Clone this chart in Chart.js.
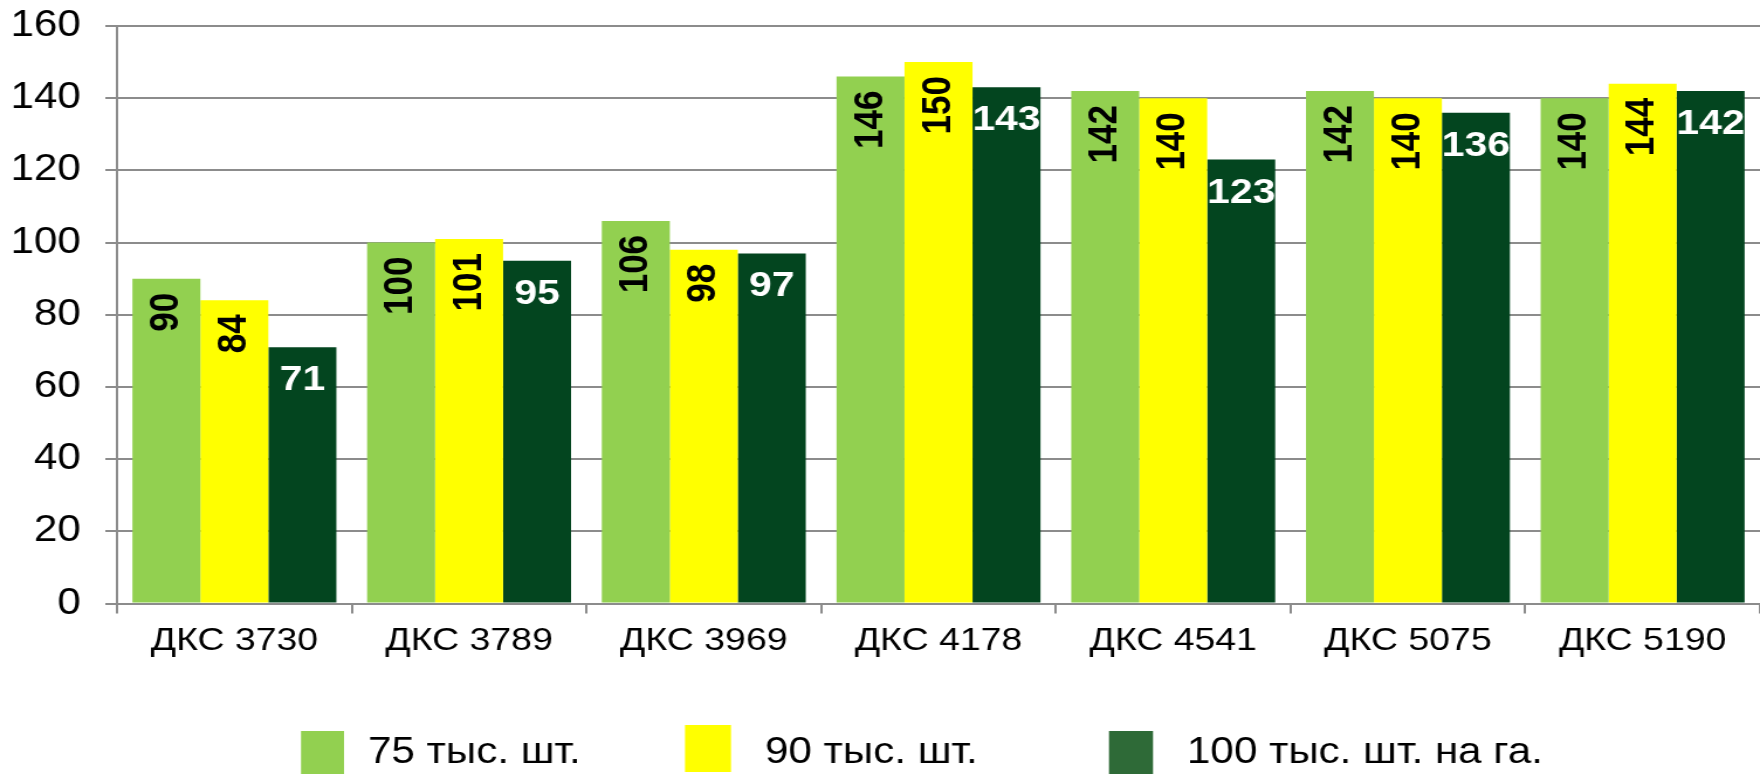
<!DOCTYPE html>
<html>
<head>
<meta charset="utf-8">
<script src="https://cdn.jsdelivr.net/npm/chart.js@4/dist/chart.umd.min.js"></script>
<style>
html, body { margin: 0; padding: 0; background: #ffffff; overflow: hidden; width: 1760px; height: 775px; }
#wrap { position: absolute; left: 0; top: 0; width: 1504px; height: 775px; transform: scaleX(1.1702); transform-origin: 0 0; }
</style>
</head>
<body>
<div id="wrap"><canvas id="c"></canvas></div>
<script>
// ---- data ----
const categories = ['ДКС 3730', 'ДКС 3789', 'ДКС 3969', 'ДКС 4178', 'ДКС 4541', 'ДКС 5075', 'ДКС 5190'];
const series75 = [90, 100, 106, 146, 142, 142, 140];
const series90 = [84, 101, 98, 150, 140, 140, 144];
const series100 = [71, 95, 97, 143, 123, 136, 142];
const seriesNames = ['75 тыс. шт.', '90 тыс. шт.', '100 тыс. шт. на га.'];
const yTickValues = [0, 20, 40, 60, 80, 100, 120, 140, 160];

// ---- style ----
const STRETCH = 1760 / 1504;
const FONT = '"Liberation Sans", Arial, Helvetica, sans-serif';
const barColors = ['#92D050', '#FFFF00', '#03451F'];
const legendColors = ['#92D050', '#FFFF00', '#2E6A37'];
const gridColor = '#8C8C8C';
// legend layout in screen pixels: [boxLeft, boxTop, boxW, boxH, textLeft]
const legendLayout = [
  [301, 731, 43, 43, 368],
  [685, 725, 46, 47, 765],
  [1109, 731, 44, 43, 1187]
];

Chart.defaults.font.family = FONT;

const valueLabels = {
  id: 'valueLabels',
  afterDatasetsDraw(chart) {
    const ctx = chart.ctx;
    chart.data.datasets.forEach((ds, di) => {
      const meta = chart.getDatasetMeta(di);
      meta.data.forEach((bar, i) => {
        const v = ds.data[i];
        ctx.save();
        ctx.font = 'bold 35px ' + FONT;
        if (di < 2) {
          ctx.fillStyle = '#000000';
          ctx.translate(bar.x, bar.y + 14);
          ctx.rotate(-Math.PI / 2);
          ctx.textAlign = 'right';
          ctx.textBaseline = 'middle';
          ctx.fillText(String(v), 0, 0);
        } else {
          ctx.fillStyle = '#FFFFFF';
          ctx.textAlign = 'center';
          ctx.textBaseline = 'alphabetic';
          ctx.fillText(String(v), bar.x, bar.y + 43);
        }
        ctx.restore();
      });
    });
  }
};

const customLegend = {
  id: 'customLegend',
  afterDraw(chart) {
    const ctx = chart.ctx;
    ctx.save();
    ctx.font = '36px ' + FONT;
    ctx.textBaseline = 'alphabetic';
    ctx.textAlign = 'left';
    chart.data.datasets.forEach((ds, i) => {
      const [bx, by, bw, bh, tx] = legendLayout[i];
      ctx.fillStyle = legendColors[i];
      ctx.fillRect(bx / STRETCH, by, bw / STRETCH, bh);
      ctx.fillStyle = '#000000';
      ctx.fillText(ds.label, tx / STRETCH, 763);
    });
    ctx.restore();
  }
};

new Chart(document.getElementById('c'), {
  type: 'bar',
  data: {
    labels: categories,
    datasets: [
      { label: seriesNames[0], data: series75, backgroundColor: barColors[0] },
      { label: seriesNames[1], data: series90, backgroundColor: barColors[1] },
      { label: seriesNames[2], data: series100, backgroundColor: barColors[2] }
    ]
  },
  options: {
    responsive: true,
    maintainAspectRatio: false,
    animation: false,
    devicePixelRatio: 1,
    layout: { padding: { top: 26, right: -11, bottom: 107, left: 0 } },
    datasets: { bar: { categoryPercentage: 0.869, barPercentage: 1.0 } },
    plugins: { legend: { display: false }, tooltip: { enabled: false } },
    scales: {
      x: {
        grid: { display: true, drawOnChartArea: false, drawTicks: true, tickLength: 10, color: gridColor, lineWidth: 2, offset: true },
        border: { display: true, color: gridColor, width: 2 },
        ticks: { font: { size: 32 }, color: '#000000', padding: 8, maxRotation: 0, autoSkip: false }
      },
      y: {
        min: 0, max: 160,
        afterBuildTicks(scale) { scale.ticks = yTickValues.map(v => ({ value: v })); },
        afterFit(scale) { scale.width = 100; scale.paddingTop = 0; scale.paddingBottom = 0; },
        grid: { color: gridColor, lineWidth: 2, tickLength: 10, drawTicks: true },
        border: { display: true, color: gridColor, width: 2 },
        ticks: { font: { size: 36 }, color: '#000000', padding: 21 }
      }
    }
  },
  plugins: [valueLabels, customLegend]
});
</script>
</body>
</html>
